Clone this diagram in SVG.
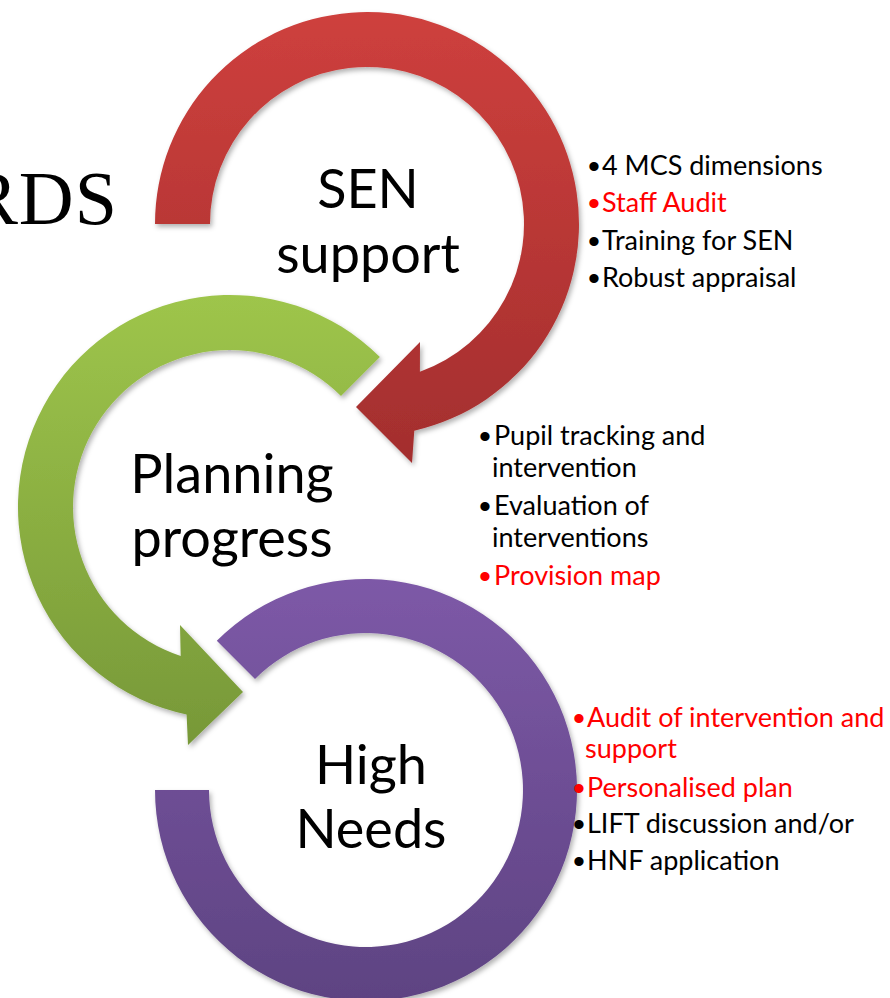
<svg xmlns="http://www.w3.org/2000/svg" width="890" height="998" viewBox="0 0 890 998">
<style>
.big{font-family:Lato,"Liberation Sans",sans-serif;font-size:54px;fill:#000;text-anchor:middle}
.li{font-family:Lato,"Liberation Sans",sans-serif;font-size:27px;fill:#000}
.bu{font-family:"Liberation Sans",sans-serif;font-size:34px;fill:#000}
.red{fill:#FF0000}
</style>
<defs>
<linearGradient id="gRed" gradientUnits="userSpaceOnUse" x1="0" y1="12" x2="0" y2="463"><stop offset="0" stop-color="#CE403D"/><stop offset="1" stop-color="#A32E2E"/></linearGradient>
<linearGradient id="gGreen" gradientUnits="userSpaceOnUse" x1="0" y1="295" x2="0" y2="745"><stop offset="0" stop-color="#9EC54B"/><stop offset="1" stop-color="#779838"/></linearGradient>
<linearGradient id="gPurple" gradientUnits="userSpaceOnUse" x1="0" y1="579" x2="0" y2="1001"><stop offset="0" stop-color="#7D59A7"/><stop offset="1" stop-color="#5E4382"/></linearGradient>
<filter id="sh" x="-10%" y="-10%" width="120%" height="120%"><feDropShadow dx="2" dy="3" stdDeviation="2.5" flood-color="#000" flood-opacity="0.3"/></filter>
</defs>
<rect width="890" height="998" fill="#fff"/>
<text x="118" y="224" text-anchor="end" font-family="'Liberation Serif',serif" font-size="76" letter-spacing="1">RDS</text>

<g id="node-high-needs">
<path filter="url(#sh)" fill="url(#gPurple)" d="M216.8,640.8 A211,211 0 1 1 155,790 L209,790 A157,157 0 1 0 255,679 Z"/>
<text class="big" x="371" y="784">High</text>
<text class="big" x="371" y="848">Needs</text>
</g>

<g id="node-planning">
<path filter="url(#sh)" fill="url(#gGreen)" d="M379.9,357.1 A212,212 0 1 0 186.6,714.5 L188,745 L243,692 L180,625 L180.7,656.1 A157,157 0 1 1 341,396 Z"/>
<text class="big" x="232" y="493">Planning</text>
<text class="big" x="232" y="557">progress</text>
</g>

<g id="node-sen">
<path filter="url(#sh)" fill="url(#gRed)" d="M155,224 A212,212 0 1 1 414.3,430.7 L412,463 L356,407 L420,342 L419.9,371.8 A157,157 0 1 0 210,224 Z"/>
<text class="big" x="368" y="208">SEN</text>
<text class="big" x="368" y="273">support</text>
</g>

<g id="list-sen">
<text class="bu" x="588" y="178">•</text><text class="li" x="602" y="175">4 MCS dimensions</text>
<text class="bu red" x="588" y="215">•</text><text class="li red" x="602" y="212">Staff Audit</text>
<text class="bu" x="588" y="253">•</text><text class="li" x="602" y="250">Training for SEN</text>
<text class="bu" x="588" y="290">•</text><text class="li" x="602" y="287">Robust appraisal</text>
</g>

<g id="list-planning">
<text class="bu" x="479" y="448">•</text><text class="li" x="494" y="445">Pupil tracking and</text>
<text class="li" x="492" y="477">intervention</text>
<text class="bu" x="479" y="518">•</text><text class="li" x="494" y="515">Evaluation of</text>
<text class="li" x="492" y="547">interventions</text>
<text class="bu red" x="479" y="588">•</text><text class="li red" x="494" y="585">Provision map</text>
</g>

<g id="list-high-needs">
<text class="bu red" x="573" y="730">•</text><text class="li red" x="587" y="727">Audit of intervention and</text>
<text class="li red" x="585" y="758">support</text>
<text class="bu red" x="573" y="800">•</text><text class="li red" x="587" y="797">Personalised plan</text>
<text class="bu" x="573" y="836">•</text><text class="li" x="587" y="833">LIFT discussion and/or</text>
<text class="bu" x="573" y="873">•</text><text class="li" x="587" y="870">HNF application</text>
</g>
</svg>
